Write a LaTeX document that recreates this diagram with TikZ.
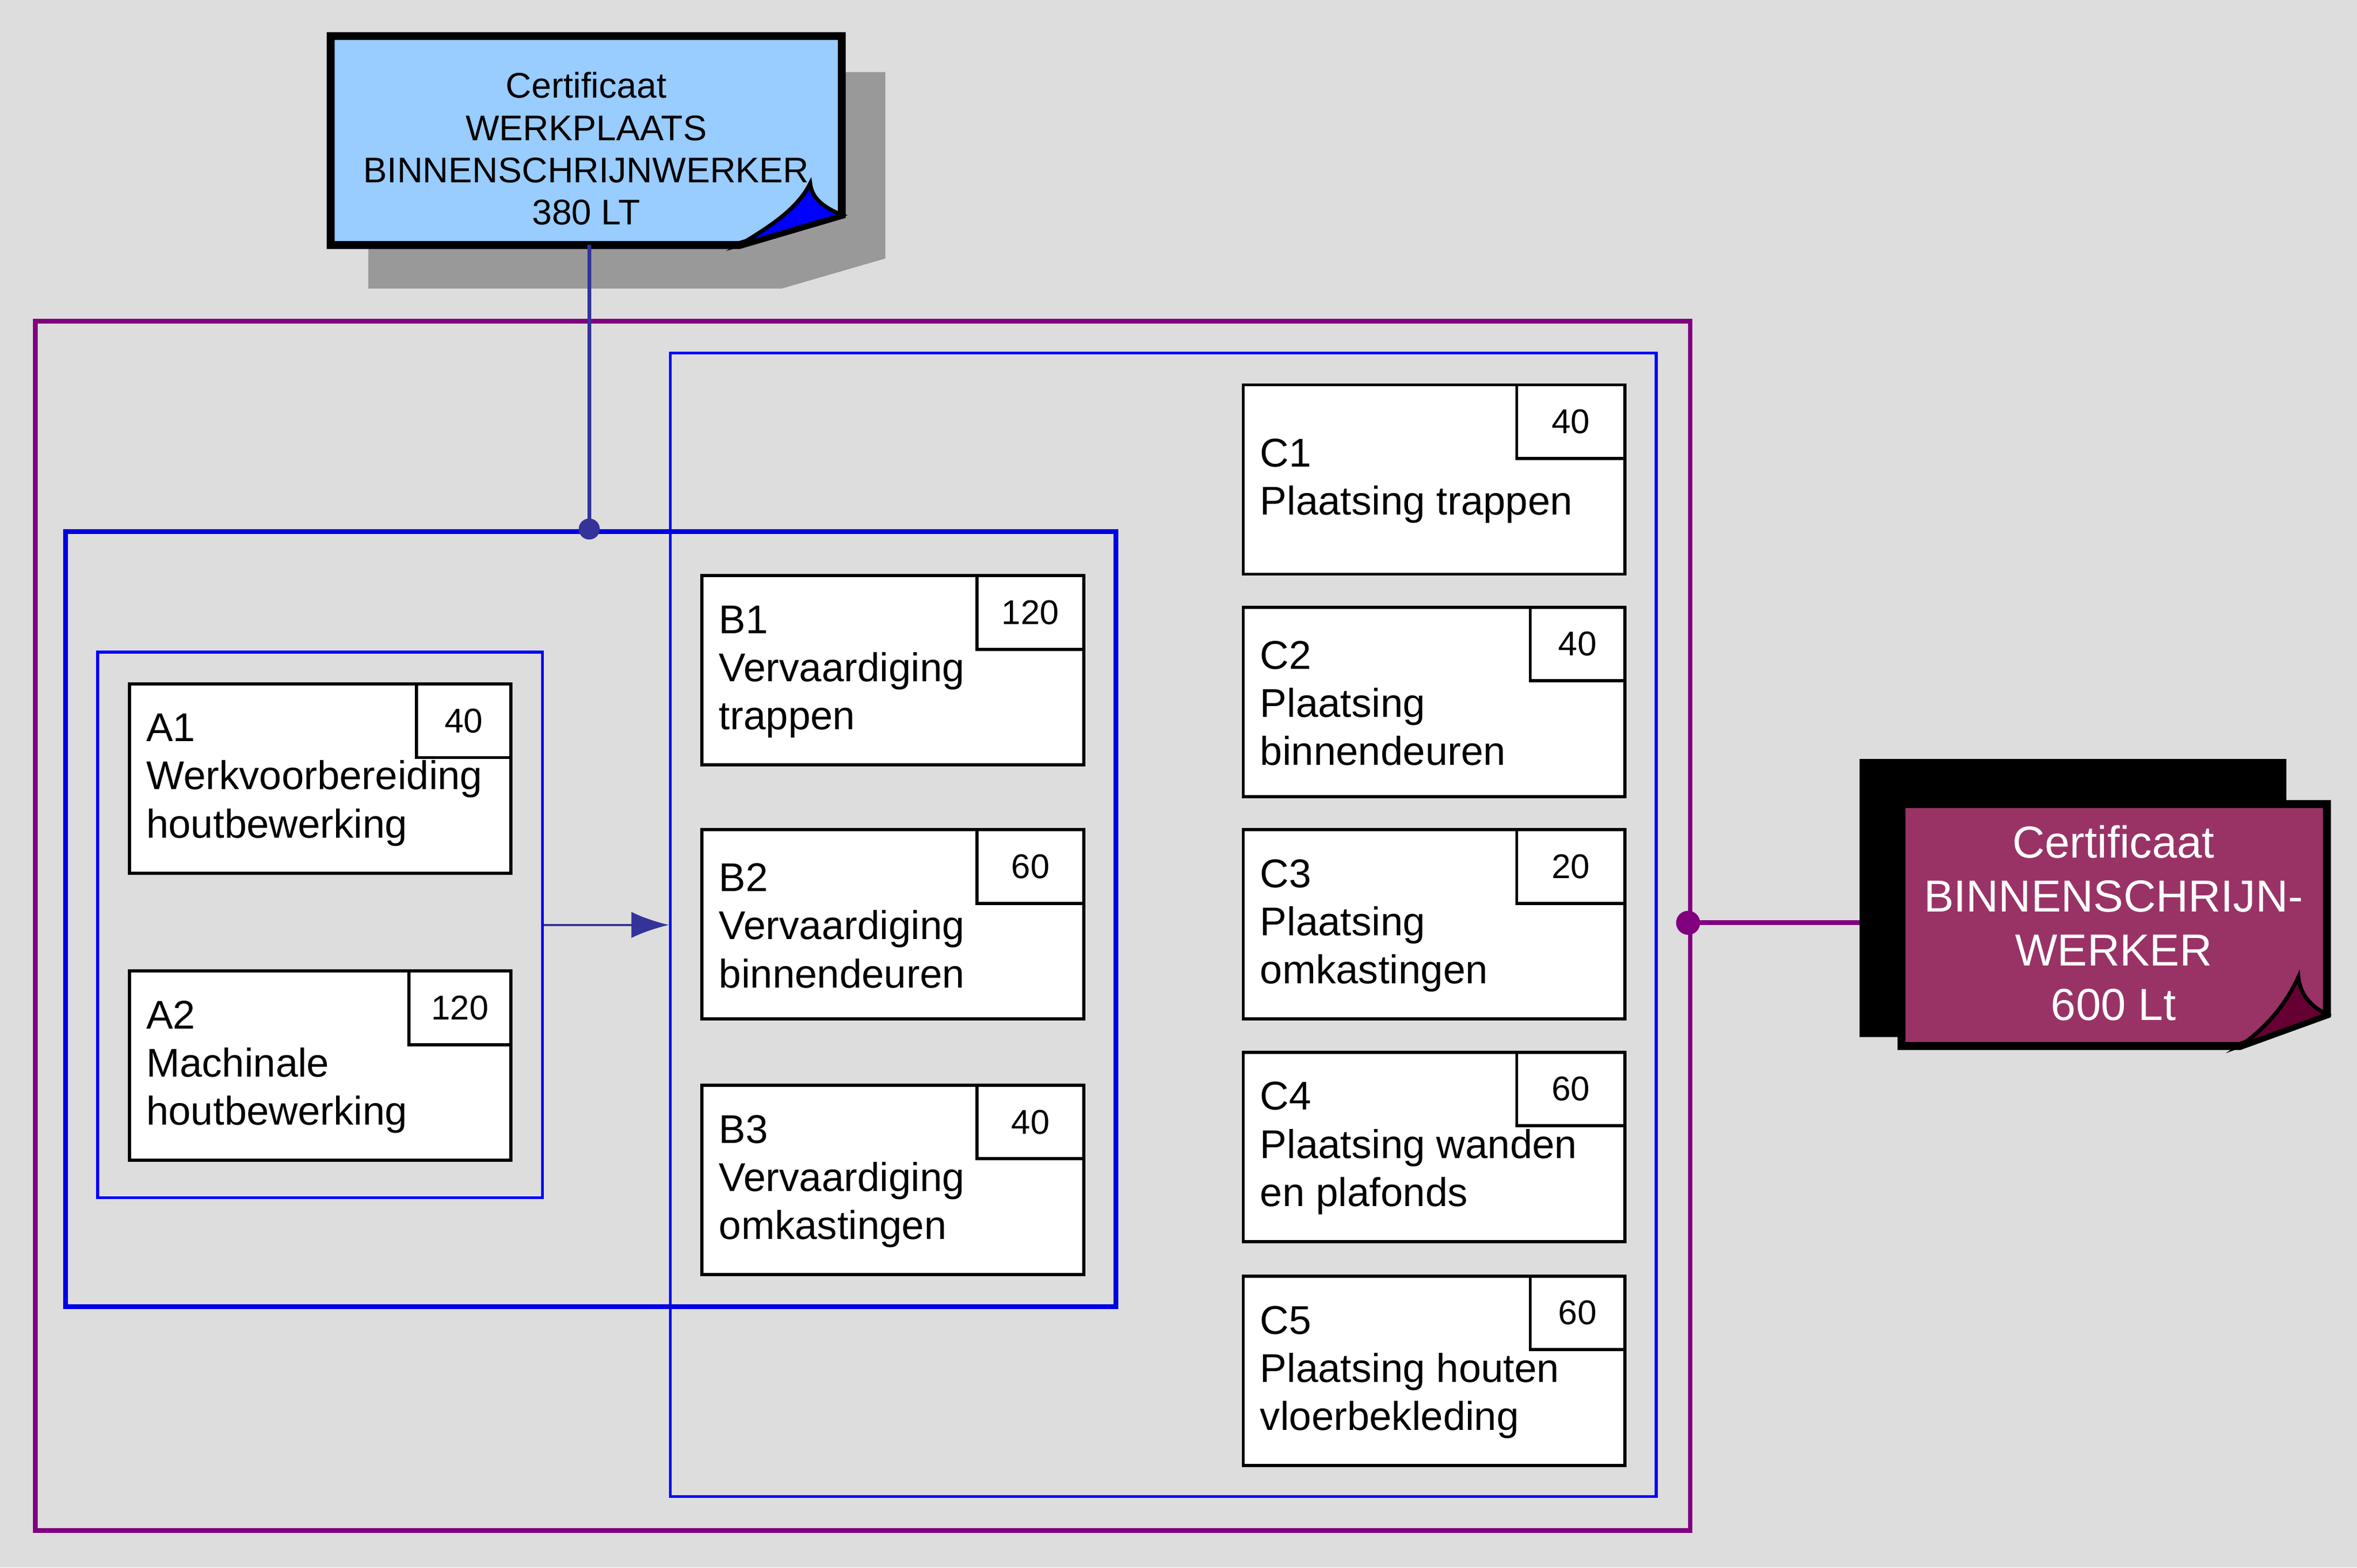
\documentclass[tikz,border=0pt]{standalone}
\usepackage{fontspec}
\setmainfont{Liberation Sans}
\usetikzlibrary{arrows.meta}
\begin{document}
\begin{tikzpicture}[x=0.02cm,y=-0.02cm,
  box/.style={draw=black,line width=1.2pt,fill=white,anchor=north west,minimum width=5.08cm,minimum height=2.52cm,inner sep=0pt},
  num/.style={draw=black,line width=1.2pt,fill=white,anchor=north east,minimum height=0.98cm,inner sep=0pt,font=\fontsize{13}{15}\selectfont},
  txt/.style={anchor=west,align=left,inner sep=0pt,font=\fontsize{15.2}{18.2}\selectfont},
  frame/.style={draw,anchor=north west,inner sep=0pt,fill=none}]
\definecolor{bg}{HTML}{DDDDDD}
\definecolor{lblue}{HTML}{99CCFF}
\definecolor{wine}{HTML}{993366}
\definecolor{dwine}{HTML}{660033}
\definecolor{purp}{HTML}{800080}
\definecolor{navy}{HTML}{333399}
\fill[bg] (0,0) rectangle (1568,1043);
\useasboundingbox (0,0) rectangle (1568,1043);
% frames
\node[frame,draw=purp,line width=1.8pt,minimum width=22.02cm,minimum height=16.1cm] (P) at (22,212) {};
\node[frame,draw=blue,line width=1.1pt,minimum width=13.12cm,minimum height=15.22cm] (R) at (445,234) {};
\node[frame,draw=blue!90!black,line width=1.8pt,minimum width=13.98cm,minimum height=10.32cm] (B) at (42,352) {};
\node[frame,draw=blue,line width=1.1pt,minimum width=5.92cm,minimum height=7.26cm] (AR) at (64,433) {};
% top certificate
\fill[black!40] (245,48) -- (589,48) -- (589,172) -- (520,192) -- (245,192) -- cycle;
\draw[line width=3pt,fill=lblue] (220,24) -- (560,24) -- (560,143) -- (492,163) -- (220,163) -- cycle;
\draw[line width=1.5pt,fill=blue] (492,163) -- (560,143) .. controls (548,138) and (540,132) .. (539,122) .. controls (530,140) and (510,152) .. (492,163) -- cycle;
\node[align=center,inner sep=0pt,font=\fontsize{13.5}{16}\selectfont] (T) at (390,99) {Certificaat\\WERKPLAATS\\BINNENSCHRIJNWERKER\\380 LT};
\coordinate (Tb) at (392,163);
\coordinate (Bd) at (392,352);
\draw[navy,line width=1.5pt] (Tb) -- (Bd);
\fill[navy] (Bd) circle (7);
% right certificate
\fill[black] (1237,505) -- (1521,505) -- (1521,535) -- (1265,535) -- (1265,690) -- (1237,690) -- cycle;
\draw[line width=3pt,fill=wine] (1265,535) -- (1548,535) -- (1548,675) -- (1490,696) -- (1265,696) -- cycle;
\draw[line width=1.5pt,fill=dwine] (1490,696) -- (1548,675) .. controls (1538,670) and (1530,662) .. (1529,650) .. controls (1520,670) and (1505,686) .. (1490,696) -- cycle;
\node[align=center,inner sep=0pt,text=white,font=\fontsize{17}{20.5}\selectfont] (C) at (1406,614) {Certificaat\\BINNENSCHRIJN-\\WERKER\\600 Lt};
\coordinate (Pd) at (1123,614);
\coordinate (Cw) at (1237,614);
\draw[purp,line width=1.8pt] (Pd) -- (Cw);
\fill[purp] (Pd) circle (8);
% arrow
\draw[navy,line width=0.8pt,-{Latex[length=0.5cm,width=0.35cm]}] (AR.east) -- (R.west |- AR.east);
% boxes
\newcommand{\tb}[7]{%
 \node[box] (#1) at (#2,#3) {};
 \node[num,minimum width=#4*0.02cm] (#1n) at (#1.north east) {#5};
 \node[txt] (#1t) at ([xshift=0.24cm,yshift=-1.3cm]#1.north west) {#6};}
\tb{A1}{85}{454}{63}{40}{A1\\Werkvoorbereiding\\houtbewerking}{}
\tb{A2}{85}{645}{68}{120}{A2\\Machinale\\houtbewerking}{}
\tb{B1}{466}{382}{71}{120}{B1\\Vervaardiging\\trappen}{}
\tb{B2}{466}{551}{71}{60}{B2\\Vervaardiging\\binnendeuren}{}
\tb{B3}{466}{721}{71}{40}{B3\\Vervaardiging\\omkastingen}{}
\tb{C1}{826}{255}{72}{40}{C1\\Plaatsing trappen}{}
\tb{C2}{826}{403}{63}{40}{C2\\Plaatsing\\binnendeuren}{}
\tb{C3}{826}{551}{72}{20}{C3\\Plaatsing\\omkastingen}{}
\tb{C4}{826}{699}{72}{60}{C4\\Plaatsing wanden\\en plafonds}{}
\tb{C5}{826}{848}{63}{60}{C5\\Plaatsing houten\\vloerbekleding}{}
\end{tikzpicture}
\end{document}
